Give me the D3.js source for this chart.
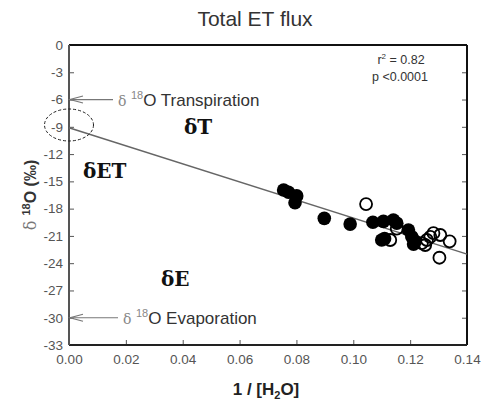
<!DOCTYPE html>
<html>
<head>
<meta charset="utf-8">
<script src="https://cdn.jsdelivr.net/npm/d3@7"></script>
<style>
  body { margin: 0; background: #fff; }
  svg text { font-family: "Liberation Sans", Arial, sans-serif; }
</style>
</head>
<body>
<svg id="chart" width="481" height="404"></svg>
<script>
/* ---------------------------------------------------
   Data
--------------------------------------------------- */

const filledX = [0.0755, 0.0772, 0.0801, 0.0795, 0.0898, 0.0989, 0.1069, 0.1106, 0.1141, 0.1153, 0.1100, 0.1110, 0.1194, 0.1206, 0.1218, 0.1212];
const filledY = [-15.95, -16.2, -16.6, -17.35, -19.07, -19.7, -19.5, -19.4, -19.25, -19.6, -21.45, -21.3, -20.35, -21.1, -21.6, -21.9];

const openX = [0.1045, 0.1130, 0.1153, 0.1241, 0.1253, 0.1259, 0.1271, 0.1282, 0.1306, 0.1339, 0.1303];
const openY = [-17.5, -21.45, -20.2, -21.8, -22.0, -21.45, -21.1, -20.7, -20.9, -21.6, -23.4];

const xTicks = [0, 0.02, 0.04, 0.06, 0.08, 0.10, 0.12, 0.14];
const yTicks = [0, -3, -6, -9, -12, -15, -18, -21, -24, -27, -30, -33];

// regression: intercept and slope
const fitIntercept = -9.1;
const fitSlope = -99.3;

const transpirationValue = -6;
const evaporationValue = -30;

/* ---------------------------------------------------
   Setup
--------------------------------------------------- */

const svg = d3.select("#chart");
const m = { left: 69, right: 467, top: 45, bottom: 345 };

const x = d3.scaleLinear().domain([0, 0.14]).range([m.left, m.right]);
const y = d3.scaleLinear().domain([-33, 0]).range([m.bottom, m.top]);

/* ---------------------------------------------------
   Axes
--------------------------------------------------- */

svg.append("text")
  .attr("x", 255).attr("y", 26)
  .attr("text-anchor", "middle")
  .attr("font-size", 21)
  .attr("fill", "#333")
  .text("Total ET flux");

const xAxis = svg.append("g")
  .attr("transform", `translate(0,${m.bottom})`)
  .call(d3.axisBottom(x).tickValues(xTicks).tickFormat(d3.format(".2f")).tickSize(-5).tickPadding(9));

const yAxis = svg.append("g")
  .attr("transform", `translate(${m.left},0)`)
  .call(d3.axisLeft(y).tickValues(yTicks).tickFormat(d => d).tickSize(-5).tickPadding(6));

const yAxisR = svg.append("g")
  .attr("transform", `translate(${m.right},0)`)
  .call(d3.axisRight(y).tickValues(yTicks).tickFormat("").tickSize(-5));

[xAxis, yAxis, yAxisR].forEach(g => {
  g.select(".domain").remove();
  g.selectAll(".tick line").attr("stroke", "#555");
  g.selectAll("text").attr("font-size", 13.5).attr("fill", "#555")
    .style("font-family", "Liberation Sans, Arial, sans-serif");
});

// frame
svg.append("line").attr("x1", m.left).attr("x2", m.right).attr("y1", m.top).attr("y2", m.top)
  .attr("stroke", "#111").attr("stroke-width", 2);
svg.append("line").attr("x1", m.right).attr("x2", m.right).attr("y1", m.top).attr("y2", m.bottom)
  .attr("stroke", "#111").attr("stroke-width", 2);
svg.append("line").attr("x1", m.left).attr("x2", m.right).attr("y1", m.bottom).attr("y2", m.bottom)
  .attr("stroke", "#222").attr("stroke-width", 2);
svg.append("line").attr("x1", m.left).attr("x2", m.left).attr("y1", m.top).attr("y2", m.bottom)
  .attr("stroke", "#555").attr("stroke-width", 2);

// axis titles
const yLab = svg.append("text")
  .attr("transform", `translate(36,195) rotate(-90)`)
  .attr("text-anchor", "middle")
  .attr("font-size", 16)
  .attr("font-weight", "bold")
  .attr("fill", "#333");
yLab.append("tspan").attr("font-weight", "normal").attr("fill", "#777").attr("font-family", "DejaVu Serif").text("δ ");
yLab.append("tspan").attr("font-size", 11).attr("dy", -6).text("18");
yLab.append("tspan").attr("dy", 6).text("O (‰)");

const xLab = svg.append("text")
  .attr("x", 266).attr("y", 395)
  .attr("text-anchor", "middle")
  .attr("font-size", 17)
  .attr("font-weight", "bold")
  .attr("fill", "#222");
xLab.append("tspan").text("1 / [H");
xLab.append("tspan").attr("font-size", 11).attr("dy", 4).text("2");
xLab.append("tspan").attr("dy", -4).text("O]");

/* ---------------------------------------------------
   Fit line and points
--------------------------------------------------- */

svg.append("line")
  .attr("x1", x(0)).attr("y1", y(fitIntercept))
  .attr("x2", x(0.14)).attr("y2", y(fitIntercept + fitSlope * 0.14))
  .attr("stroke", "#666").attr("stroke-width", 1.5);

svg.append("g")
  .selectAll("circle")
  .data(d3.zip(filledX, filledY))
  .join("circle")
  .attr("cx", d => x(d[0]))
  .attr("cy", d => y(d[1]))
  .attr("r", 6.8)
  .attr("fill", "#000");

svg.append("g")
  .selectAll("circle")
  .data(d3.zip(openX, openY))
  .join("circle")
  .attr("cx", d => x(d[0]))
  .attr("cy", d => y(d[1]))
  .attr("r", 6)
  .attr("fill", "none")
  .attr("stroke", "#000")
  .attr("stroke-width", 1.8);

/* ---------------------------------------------------
   Annotations
--------------------------------------------------- */

const stats = svg.append("g").attr("font-size", 12.5).attr("fill", "#333").attr("text-anchor", "middle");
const r2 = stats.append("text").attr("x", 401).attr("y", 64);
r2.append("tspan").text("r");
r2.append("tspan").attr("font-size", 8).attr("dy", -5).text("2");
r2.append("tspan").attr("dy", 5).text(" = 0.82");
stats.append("text").attr("x", 400).attr("y", 81).text("p <0.0001");

function sourceArrow(value, x0, label) {
  const yy = y(value);
  const g = svg.append("g").attr("stroke", "#777").attr("stroke-width", 1.2).attr("fill", "none");
  g.append("line").attr("x1", x0).attr("x2", m.left + 1).attr("y1", yy).attr("y2", yy);
  g.append("path").attr("d", `M${m.left + 14},${yy - 3.5} L${m.left + 1},${yy} L${m.left + 14},${yy + 3.5}`);
  const t = svg.append("text")
    .attr("x", x0 + 5).attr("y", yy + 6)
    .attr("font-size", 17).attr("fill", "#333");
  t.append("tspan").attr("fill", "#888").attr("font-family", "DejaVu Serif").attr("font-size", 14).text("δ ");
  t.append("tspan").attr("fill", "#888").attr("font-size", 11).attr("dy", -7).text("18");
  t.append("tspan").attr("dy", 7).text("O " + label);
}
sourceArrow(transpirationValue, 113, "Transpiration");
sourceArrow(evaporationValue, 118, "Evaporation");

svg.append("ellipse")
  .attr("cx", x(0)).attr("cy", y(-8.8))
  .attr("rx", 24.5).attr("ry", 16)
  .attr("fill", "none").attr("stroke", "#222")
  .attr("stroke-width", 1).attr("stroke-dasharray", "3,2");

const bigLabels = [
  { t: "δT", x: 184, y: 134 },
  { t: "δET", x: 83, y: 178 },
  { t: "δE", x: 161, y: 286 }
];
svg.append("g")
  .selectAll("text")
  .data(bigLabels)
  .join("text")
  .attr("x", d => d.x).attr("y", d => d.y)
  .attr("font-size", 20)
  .attr("font-weight", "bold")
  .style("font-family", "DejaVu Serif, serif")
  .attr("fill", "#111")
  .text(d => d.t);
</script>
</body>
</html>
